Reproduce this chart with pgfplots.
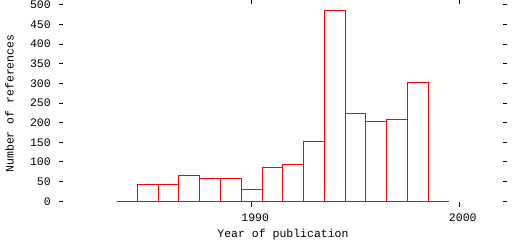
\documentclass[border=0pt]{standalone}
\usepackage{fontspec}
\setmainfont{Liberation Mono}
\usepackage{pgfplots}
\pgfplotsset{compat=1.18}
\begin{document}
\begin{tikzpicture}[x=1pt,y=1pt]
\path[use as bounding box] (0,0) rectangle (512,240);
\begin{axis}[
  at={(59pt,33pt)}, anchor=south west,
  scale only axis, width=448pt, height=207pt,
  xmin=1980.72, xmax=2002.3, ymin=-14.5, ymax=512,
  axis line style={draw=none},
  xtick={1990,2000}, ytick={0,50,...,500},
  tick align=inside, major tick length=4.5pt,
  every tick/.style={black, line width=1pt},
  tick label style={font=\fontsize{11.5}{12}\selectfont},
  label style={font=\fontsize{11.5}{12}\selectfont},
  /pgf/number format/assume math mode=true,
  /pgf/number format/1000 sep={},
  yticklabel style={anchor=east, inner sep=0pt, xshift=-8pt},
  xticklabel style={anchor=north, inner sep=0pt, yshift=-7pt, xshift=3.5pt},
  xlabel={Year of publication},
  ylabel={Number of references},
  xlabel style={at={(axis description cs:0.5,0)}, anchor=north, inner sep=0pt, yshift=-22pt},
  ylabel style={at={(axis description cs:0,0.5)}, anchor=south, inner sep=0pt, yshift=45pt},
  clip=false,
]
\addplot[ybar interval, draw=red, fill=none, line width=1pt] coordinates {
  (1984.5,43) (1985.5,43) (1986.5,66) (1987.5,58) (1988.5,58)
  (1989.5,30) (1990.5,87) (1991.5,94) (1992.5,153) (1993.5,486)
  (1994.5,224) (1995.5,203) (1996.5,209) (1997.5,303) (1998.5,0)
};
\addplot[red, line width=1pt] coordinates {(1983.5,0) (1999.5,0)};
\end{axis}
\end{tikzpicture}
\end{document}
